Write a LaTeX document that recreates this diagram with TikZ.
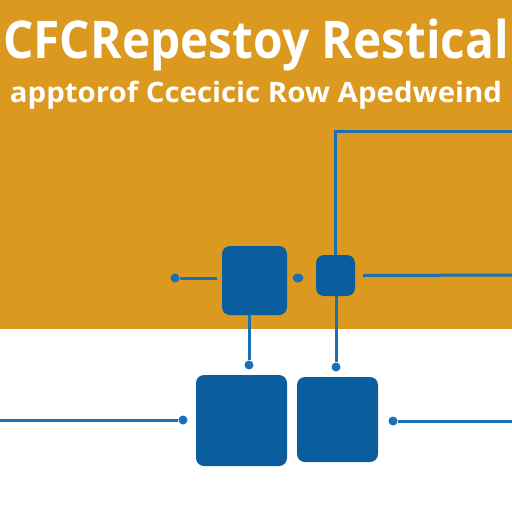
\documentclass[tikz,border=0pt]{standalone}
\usepackage{fontspec}
\setmainfont{Open Sans}
\usetikzlibrary{positioning,shapes.geometric}
\definecolor{amber}{HTML}{DB9A1F}
\definecolor{blockblue}{HTML}{0A5E9E}
\definecolor{wireblue}{HTML}{1A6FB5}

\begin{document}
\begin{tikzpicture}[
x=1pt, y=-1pt,
block/.style={fill=blockblue, rounded corners=8pt, inner sep=0pt},
wire/.style={draw=wireblue, line width=3pt},
dot/.style={circle, fill=wireblue, inner sep=0pt, minimum size=9pt},
heading/.style={text=white, anchor=base, inner sep=0pt}
]

\useasboundingbox (0,0) rectangle (512,512);
\fill[amber] (0,0) rectangle (512,329);
\fill[white] (0,329) rectangle (512,512);

% title lines
\node[heading, font=\bfseries\fontsize{52}{52}\selectfont, xscale=0.92] (title) at (256,58) {CFCRepestoy Restical};
\node[heading, font=\bfseries\fontsize{28}{28}\selectfont, xscale=1.05] (subtitle) at (256,102) {apptorof Ccecicic Row Apedweind};

% top row
\node[block, minimum width=65pt, minimum height=69pt] (ctl) at (254.5,280.5) {};
\node[block, minimum width=39pt, minimum height=41pt] (ctr) at (335.5,275.5) {};

% bottom row
\node[block, minimum width=91pt, minimum height=91pt] (cbl) at (241.5,420.5) {};
\node[block, minimum width=81pt, minimum height=85pt] (cbr) at (337.5,419.5) {};

% terminals
\node[dot] (inl) at (175,278) {};
\node[ellipse, fill=wireblue, inner sep=0pt, minimum width=11pt, minimum height=9pt] (midl) at (298,278) {};
\node[dot] (dl) at (249,365) {};
\node[dot] (dr) at (336,367) {};
\node[dot] (dbl) at (183,420) {};
\node[dot] (dbr) at (393,421) {};
\coordinate (corner) at (335.5,131);
\coordinate (topr) at (512,131);
\coordinate (outr) at (512,275);
\coordinate (inb) at (0,420);
\coordinate (outb) at (512,421);

% wires
\draw[wire] (inl) -- ([xshift=-5pt]inl -| ctl.west);
\draw[wire] (ctr.north) -- (corner) -- (topr);
\draw[wire] ([xshift=8pt]ctr.east) -- (outr);
\draw[wire] (dl |- ctl.south) -- (dl);
\draw[wire] (dr |- ctr.south) -- (dr);
\draw[wire] (inb) -- (dbl);
\draw[wire] (dbr) -- (outb);

\end{tikzpicture}
\end{document}
